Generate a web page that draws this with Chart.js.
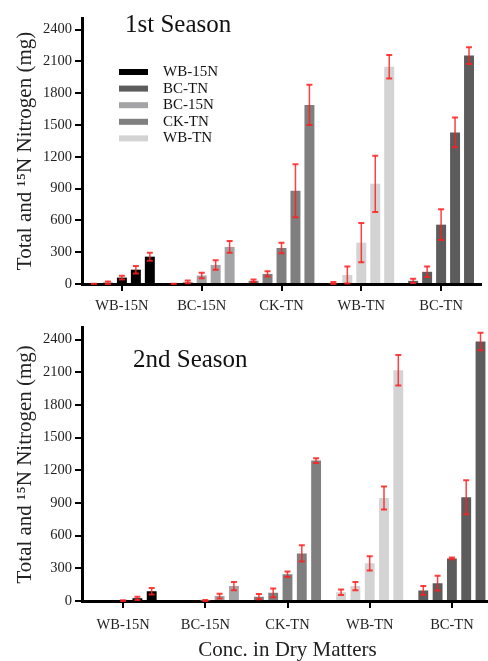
<!DOCTYPE html>
<html>
<head>
<meta charset="utf-8">
<script src="https://cdn.jsdelivr.net/npm/chart.js@4.4.1/dist/chart.umd.min.js"></script>
<style>
html, body { margin: 0; padding: 0; background: #fff; overflow: hidden; }
#wrap { position: relative; width: 488px; height: 661px; overflow: hidden; }
canvas { position: absolute; left: 0; display: block; }
#c1 { top: 0; }
#c2 { top: 316px; }
</style>
</head>
<body>
<div id="wrap">
  <canvas id="c1" width="488" height="316"></canvas>
  <canvas id="c2" width="496" height="345"></canvas>
</div>
<script>
// categorias e ticks
const categories = ['WB-15N', 'BC-15N', 'CK-TN', 'WB-TN', 'BC-TN'];
const legendOrder = ['WB-15N', 'BC-TN', 'BC-15N', 'CK-TN', 'WB-TN'];
const yTicks = [0, 300, 600, 900, 1200, 1500, 1800, 2100, 2400];

// 1st season: 5 bars per group
const s1Wb15n = [0, 12, 60, 135, 258];
const s1Bc15n = [0, 20, 80, 180, 350];
const s1CkTn  = [30, 95, 340, 880, 1690];
const s1WbTn  = [8, 85, 390, 945, 2050];
const s1BcTn  = [30, 115, 560, 1430, 2155];
const s1Wb15nErr = [3, 12, 18, 35, 38];
const s1Bc15nErr = [3, 12, 25, 45, 55];
const s1CkTnErr  = [12, 25, 50, 250, 190];
const s1WbTnErr  = [10, 80, 185, 265, 110];
const s1BcTnErr  = [20, 50, 145, 140, 80];

// 2nd season
const s2Wb15n = [0, 0, 3, 25, 90];
const s2Bc15n = [0, 0, 5, 45, 137];
const s2CkTn  = [40, 75, 245, 437, 1290];
const s2WbTn  = [80, 137, 346, 946, 2120];
const s2BcTn  = [97, 164, 391, 953, 2384];
const s2Wb15nErr = [0, 0, 5, 15, 30];
const s2Bc15nErr = [0, 0, 5, 22, 38];
const s2CkTnErr  = [25, 40, 25, 75, 22];
const s2WbTnErr  = [25, 38, 65, 105, 140];
const s2BcTnErr  = [40, 67, 8, 157, 80];

const groupColors = ['#000000', '#a4a4a6', '#7f7f7f', '#d3d3d3', '#5c5c5c'];
const serif = "'Liberation Serif', 'DejaVu Serif', serif";

function montarDatasets(groups, errs) {
    const out = [];
    for (let k = 0; k < 5; k++) {
        out.push({
            data: groups.map(g => g[k]),
            errors: errs.map(e => e[k]),
            backgroundColor: groupColors,
            borderWidth: 0
        });
    }
    return out;
}

// barras de erro em vermelho
const errorBars = {
    id: 'errorBars',
    afterDatasetsDraw(chart) {
        const ctx = chart.ctx;
        const y = chart.scales.y;
        ctx.save();
        ctx.strokeStyle = 'rgba(255,30,30,0.85)';
        chart.data.datasets.forEach((ds, i) => {
            chart.getDatasetMeta(i).data.forEach((bar, j) => {
                const e = ds.errors[j];
                if (!e) return;
                const v = ds.data[j];
                const yTop = y.getPixelForValue(v + e);
                const yBot = y.getPixelForValue(Math.max(0, v - e));
                ctx.lineWidth = 1.5;
                ctx.beginPath();
                ctx.moveTo(bar.x, yTop);
                ctx.lineTo(bar.x, yBot);
                ctx.stroke();
                ctx.lineWidth = 2;
                ctx.beginPath();
                ctx.moveTo(bar.x - 3, yTop);
                ctx.lineTo(bar.x + 3, yTop);
                ctx.moveTo(bar.x - 3, yBot);
                ctx.lineTo(bar.x + 3, yBot);
                ctx.stroke();
            });
        });
        ctx.restore();
    }
};

// titulo dentro da area do grafico
const panelTitle = {
    id: 'panelTitle',
    afterDraw(chart, args, opts) {
        const ctx = chart.ctx;
        const a = chart.chartArea;
        ctx.save();
        ctx.fillStyle = '#111';
        ctx.font = '25px ' + serif;
        ctx.textBaseline = 'middle';
        ctx.fillText(opts.text, a.left + opts.dx, a.top + opts.dy);
        ctx.restore();
    }
};

// legenda (so no primeiro painel)
const boxLegend = {
    id: 'boxLegend',
    afterDraw(chart, args, opts) {
        if (!opts.show) return;
        const ctx = chart.ctx;
        ctx.save();
        ctx.font = '15px ' + serif;
        ctx.textBaseline = 'middle';
        legendOrder.forEach((name, i) => {
            const yy = 72 + i * 16.6;
            ctx.fillStyle = groupColors[categories.indexOf(name)];
            ctx.fillRect(119, yy - 3, 29, 6);
            ctx.fillStyle = '#111';
            ctx.fillText(name, 163, yy);
        });
        ctx.restore();
    }
};

function criarGrafico(id, datasets, cfg) {
    return new Chart(document.getElementById(id), {
        type: 'bar',
        data: { labels: categories, datasets: datasets },
        options: {
            responsive: false,
            animation: false,
            layout: { padding: { top: cfg.top, right: cfg.right, left: 0, bottom: 0 } },
            categoryPercentage: cfg.catPct,
            barPercentage: cfg.barPct,
            plugins: {
                legend: { display: false },
                tooltip: { enabled: false },
                panelTitle: { text: cfg.title, dx: cfg.titleDx, dy: cfg.titleDy },
                boxLegend: { show: cfg.legend }
            },
            scales: {
                x: {
                    grid: { display: true, offset: false, drawOnChartArea: false, drawTicks: true, tickLength: 7, lineWidth: 2, color: '#000' },
                    border: { display: true, color: '#000', width: 3 },
                    ticks: { color: '#222', font: { family: serif, size: 14.5 }, padding: cfg.xPad, maxRotation: 0 },
                    title: { display: !!cfg.xTitle, text: cfg.xTitle, color: '#222', font: { family: serif, size: 21, lineHeight: 1 }, padding: 0 },
                    afterFit(s) { s.height = cfg.xHeight; }
                },
                y: {
                    min: 0, max: 2510,
                    afterBuildTicks(s) { s.ticks = yTicks.map(v => ({ value: v })); },
                    grid: { display: true, drawOnChartArea: false, drawTicks: true, tickLength: 7, lineWidth: 2, color: '#000' },
                    border: { display: true, color: '#000', width: 3 },
                    ticks: { color: '#222', font: { family: serif, size: 14.5 }, padding: 3, callback: v => String(v) },
                    title: { display: true, text: 'Total and \u00b9\u2075N Nitrogen (mg)', color: '#222', font: { family: serif, size: 21, lineHeight: 1.2 }, padding: { top: 13, bottom: 0 } },
                    afterFit(s) { s.width = 82; }
                }
            }
        },
        plugins: [errorBars, panelTitle, boxLegend]
    });
}

criarGrafico('c1',
    montarDatasets([s1Wb15n, s1Bc15n, s1CkTn, s1WbTn, s1BcTn], [s1Wb15nErr, s1Bc15nErr, s1CkTnErr, s1WbTnErr, s1BcTnErr]),
    { top: 18, right: 7, catPct: 0.875, barPct: 0.714, xPad: 6, xHeight: 32, xTitle: '', title: '1st Season', titleDx: 43, titleDy: 7, legend: true });

criarGrafico('c2',
    montarDatasets([s2Wb15n, s2Bc15n, s2CkTn, s2WbTn, s2BcTn], [s2Wb15nErr, s2Bc15nErr, s2CkTnErr, s2WbTnErr, s2BcTnErr]),
    { top: 9, right: 3, catPct: 0.87, barPct: 0.69, xPad: 8, xHeight: 60, xTitle: 'Conc. in Dry Matters', title: '2nd Season', titleDx: 51, titleDy: 33, legend: false });
</script>
</body>
</html>
